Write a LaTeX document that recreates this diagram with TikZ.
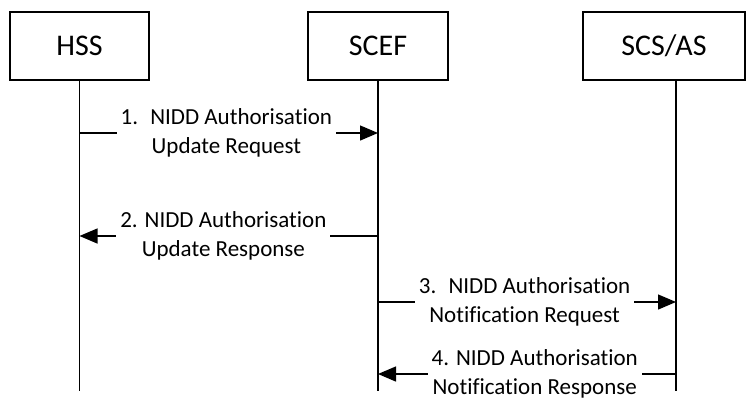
\documentclass[tikz,border=0pt]{standalone}
\usepackage{fontspec}
\setmainfont{Carlito}[Ligatures={NoCommon}]
\usetikzlibrary{arrows.meta, positioning, calc}
\newcommand{\mensaje}[4]{%
  \draw[msg] (#1) -- node[lbl, pos=#4] {#3} (#2);%
}

\begin{document}
\begin{tikzpicture}[x=1pt, y=-1pt,
    entidad/.style={draw, line width=1.4pt, minimum height=68pt,
      font=\fontsize{30}{34}\selectfont},
    vida/.style={line width=1.3pt},
    msg/.style={line width=1.3pt, -{Triangle[length=18pt, width=15pt]}},
    lbl/.style={fill=white, align=center, inner xsep=4pt, inner ysep=0pt,
      font=\fontsize{23}{29}\selectfont}]
  \useasboundingbox (0,0) rectangle (746,399);
  % entities
  \node[entidad, minimum width=139pt] (hss) at (79.5,46) {HSS};
  \node[entidad, minimum width=140pt] (scef) at (378,46) {SCEF};
  \node[entidad, minimum width=162pt] (scs) at (664,46) {SCS/AS};
  \coordinate (scstop) at ([xshift=12pt]scs.south);
  % message heights
  \path (0,391) coordinate (fondo)
        (0,133) coordinate (m1)
        (0,236) coordinate (m2)
        (0,302) coordinate (m3)
        (0,374) coordinate (m4);
  % lifelines
  \draw[vida] (hss.south) -- (hss.south |- fondo);
  \draw[vida] (scef.south) -- (scef.south |- fondo);
  \draw[vida] (scstop) -- (scstop |- fondo);
  % messages
  \mensaje{hss.south |- m1}{scef.south |- m1}{1.~ NIDD Authorisation\\Update Request}{0.492}
  \mensaje{scef.south |- m2}{hss.south |- m2}{2. NIDD Authorisation\\Update Response}{0.518}
  \mensaje{scef.south |- m3}{scstop |- m3}{3.~ NIDD Authorisation\\Notification Request}{0.492}
  \mensaje{scstop |- m4}{scef.south |- m4}{4. NIDD Authorisation\\Notification Response}{0.474}
\end{tikzpicture}
\end{document}
